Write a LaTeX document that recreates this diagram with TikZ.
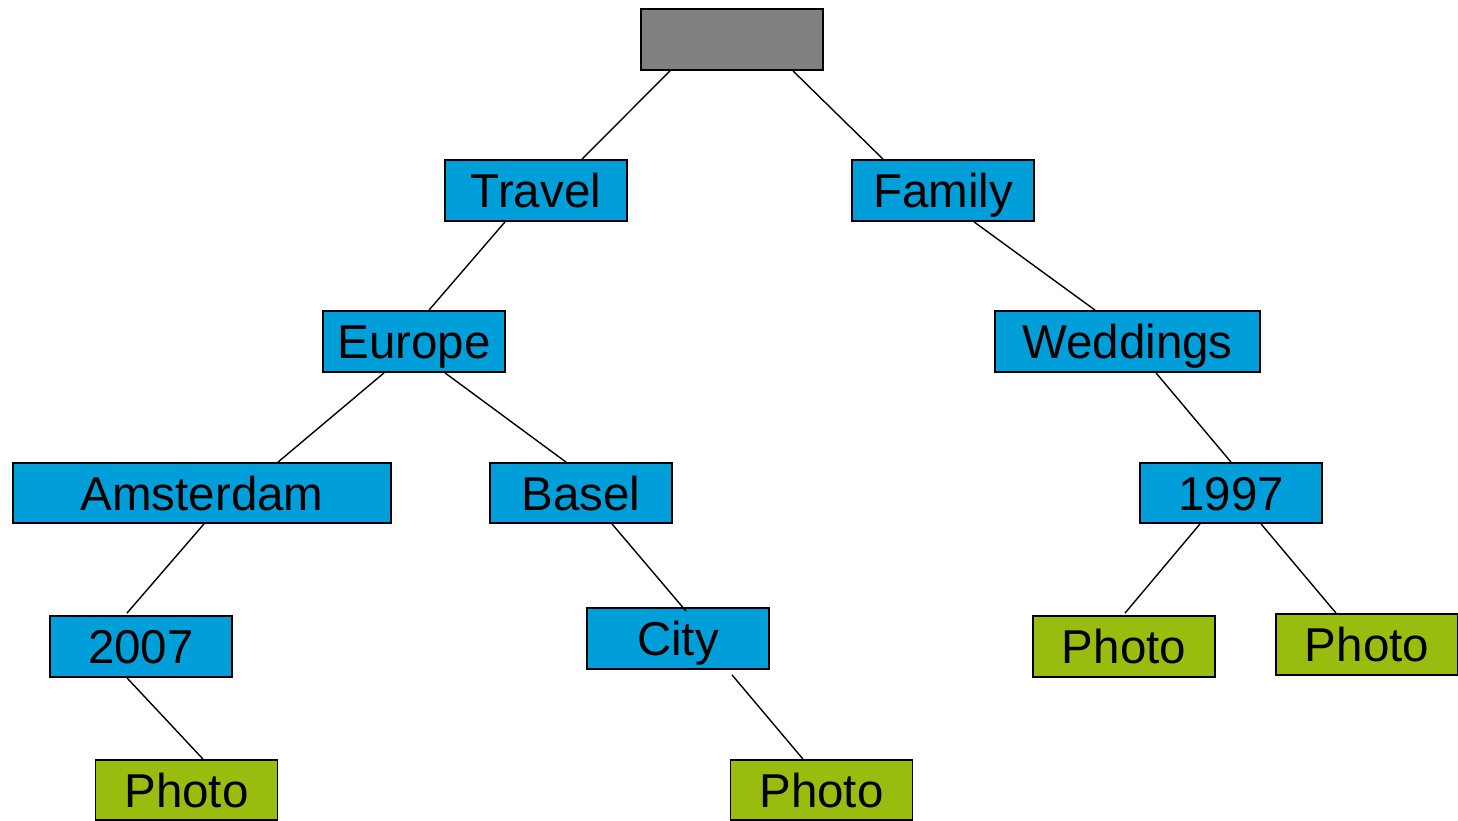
\documentclass[tikz,border=0pt]{standalone}
\usepackage{fontspec}
\setmainfont{Liberation Sans}
\definecolor{boxblue}{RGB}{0,159,218}
\definecolor{boxgreen}{RGB}{153,189,14}
\definecolor{boxgray}{RGB}{128,128,128}
\begin{document}
\begin{tikzpicture}[x=1pt,y=-1pt,
  box/.style={draw=black,line width=1.8pt,inner sep=0pt,minimum width=182pt,minimum height=61pt,
    font=\fontsize{47.5}{57}\selectfont,text height=34pt,text depth=0pt},
  folder/.style={box,fill=boxblue},
  photo/.style={box,fill=boxgreen},
  link/.style={draw=black,line width=1.4pt}]
\useasboundingbox[fill=white] (0,0) rectangle (1458,821);
\node[box,fill=boxgray] (root) at (732,39.5) {};
\node[folder] (travel) at (536,190.5) {Travel};
\node[folder] (family) at (943,190.5) {Family};
\node[folder] (europe) at (414,341.5) {Europe};
\node[folder,minimum width=265pt] (weddings) at (1127.5,341.5) {Weddings};
\node[folder,minimum width=378pt,minimum height=60pt] (amsterdam) at (202,493) {Amsterdam};
\node[folder,minimum height=60pt] (basel) at (581,493) {Basel};
\node[folder,minimum height=60pt] (y1997) at (1231,493) {1997};
\node[folder] (y2007) at (141,646.5) {2007};
\node[folder] (city) at (678,638.5) {City};
\node[photo] (photoA) at (1124,646.5) {Photo};
\node[photo] (photoB) at (1367,644.5) {Photo};
\node[photo,minimum height=60pt] (photoC) at (186.5,790) {Photo};
\node[photo,minimum height=60pt] (photoD) at (821.5,790) {Photo};

\draw[link] ([xshift=-62pt]root.south) -- ([xshift=46pt]travel.north);
\draw[link] ([xshift=61pt]root.south) -- ([xshift=-60pt]family.north);
\draw[link] ([xshift=-31pt]travel.south) -- ([xshift=15pt]europe.north);
\draw[link] ([xshift=31pt]family.south) -- ([xshift=-32.5pt]weddings.north);
\draw[link] ([xshift=-30pt]europe.south) -- ([xshift=76pt]amsterdam.north);
\draw[link] ([xshift=31pt]europe.south) -- ([xshift=-15pt]basel.north);
\draw[link] ([xshift=2pt]amsterdam.south) -- ([xshift=-14pt,yshift=2pt]y2007.north);
\draw[link] ([xshift=-14pt]y2007.south) -- ([xshift=16.5pt]photoC.north);
\draw[link] ([xshift=31pt]basel.south) -- ([xshift=8pt,yshift=-4pt]city.north);
\draw[link] ([xshift=54pt,yshift=-5pt]city.south) -- ([xshift=-18.5pt]photoD.north);
\draw[link] ([xshift=28.5pt]weddings.south) -- (y1997.north);
\draw[link] ([xshift=-31pt]y1997.south) -- ([xshift=1pt,yshift=2pt]photoA.north);
\draw[link] ([xshift=30pt]y1997.south) -- ([xshift=-31pt]photoB.north);
\end{tikzpicture}
\end{document}
